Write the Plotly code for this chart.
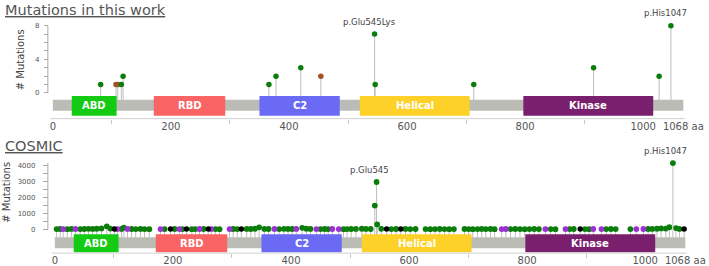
import plotly.graph_objects as go

W, H = 709, 266

# ---------------- data ----------------
protein_length = 1068
domain_names = ["ABD", "RBD", "C2", "Helical", "Kinase"]
domain_start = [32, 171, 350, 520, 797]
domain_end = [108, 292, 486, 706, 1017]
domain_colors = ["#12cb12", "#fa6464", "#6a6af5", "#fdd128", "#7a1f6e"]

x_tickvals = [0, 200, 400, 600, 800, 1000, 1068]
x_ticktext = ["0", "200", "400", "600", "800", "1000", "1068 aa"]

# panel 1: mutations in this work
work_green_pos = [81, 116, 119, 366, 378, 420, 545, 546, 713, 916, 1027, 1047]
work_green_cnt = [1, 1, 2, 1, 2, 3, 7, 1, 1, 3, 2, 8]
work_brown_pos = [107, 110, 454]
work_brown_cnt = [1, 1, 2]
work_labels = [(545, 7, "p.Glu545Lys"), (1047, 8, "p.His1047")]

# panel 2: COSMIC
cosmic_green_pos = [3, 9, 21, 28, 43, 50, 57, 64, 71, 79, 88, 94, 113, 117, 130, 137, 145, 152, 160,
                    186, 203, 216, 232, 238, 252, 272, 279, 302, 309, 325, 332, 339, 346, 355, 362,
                    380, 388, 395, 402, 419, 426, 433, 450, 457, 463, 489, 495, 502, 510, 520, 527,
                    535, 553, 570, 578, 594, 602, 611, 628, 636, 644, 652, 660, 668, 676, 694, 701,
                    708, 716, 723, 730, 738, 745, 772, 780, 788, 796, 804, 812, 820, 840, 848, 872,
                    879, 898, 905, 934, 942, 950, 975, 1005, 1012, 1020, 1027, 1035, 1041, 1052, 1058]
cosmic_green_cnt = [20, 25, 15, 30, 20, 25, 35, 30, 40, 60,
                    190, 50, 30, 110, 25, 20, 30, 20, 15, 20,
                    25, 20, 15, 20, 25, 20, 15, 25, 20, 30,
                    25, 40, 130, 30, 25, 20, 35, 30, 25, 100,
                    40, 30, 20, 25, 20, 15, 20, 25, 30, 40,
                    30, 25, 35, 20, 25, 30, 20, 25, 20, 15,
                    20, 25, 20, 15, 20, 25, 20, 15, 20, 30,
                    20, 25, 15, 20, 25, 20, 15, 20, 25, 20,
                    20, 15, 20, 25, 20, 15, 20, 25, 20, 20,
                    25, 30, 40, 60, 50, 140, 80, 30]
cosmic_purple_pos = [14, 35, 106, 123, 179, 211, 245, 265, 296, 372, 409, 443, 470, 481,
                     757, 764, 831, 865, 912, 926, 985, 997]
cosmic_purple_cnt = [20, 25, 20, 30, 20, 20, 25, 20, 20, 25, 30, 20, 25, 20,
                     20, 25, 20, 20, 25, 20, 20, 25]
cosmic_black_pos = [101, 196, 223, 260, 316, 562, 586, 890, 1066]
cosmic_black_cnt = [20, 20, 20, 20, 20, 20, 20, 20, 20]
cosmic_hot_pos = [542, 545, 546, 1047]
cosmic_hot_cnt = [1480, 2950, 310, 4130]
cosmic_labels = [(545, 2950, "p.Glu545"), (1047, 4130, "p.His1047")]

# ---------------- layout helpers ----------------
FONT = "DejaVu Sans"
GREEN = "#0b7d0b"
BROWN = "#a3521f"
PURPLE = "#9b30d3"
STEM = "#bdbdbd"
BAR = "#bcbcb7"

XR = [-85, 1100]
px_per_aa = 0.592


def xdom(zero_px):
    left = zero_px + XR[0] * px_per_aa
    right = zero_px + XR[1] * px_per_aa
    return [left / W, right / W]


def ydom(top_px, bot_px):
    return [(H - bot_px) / H, (H - top_px) / H]


panels = [
    dict(xa="x", ya="y", xzero=53, top=20, bot=120, zero_px=94, px_per_unit=8.5,
         bar=(101, 112), dom=(97, 117),
         tickvals=[0, 4, 8], minor=[1, 2, 3, 5, 6, 7], ticklen=4, standoff=3),
    dict(xa="x2", ya="y2", xzero=55, top=158, bot=256, zero_px=232, px_per_unit=0.01625,
         bar=(240, 251), dom=(237, 255),
         tickvals=[0, 1000, 2000, 3000, 4000], minor=[500, 1500, 2500, 3500], ticklen=5, standoff=6),
]
for p in panels:
    p["yr"] = [(p["zero_px"] - p["bot"]) / p["px_per_unit"], (p["zero_px"] - p["top"]) / p["px_per_unit"]]


def px_to_val(p, ypx):
    return (p["zero_px"] - ypx) / p["px_per_unit"]


fig = go.Figure()
shapes = []
annotations = []


def add_lollipops(p, pos, cnt, color, size=5.5):
    base = px_to_val(p, p["bar"][0])
    sx, sy = [], []
    for a, c in zip(pos, cnt):
        sx += [a, a, None]
        sy += [base, c, None]
    fig.add_trace(go.Scatter(x=sx, y=sy, mode="lines", line=dict(color=STEM, width=1),
                             xaxis=p["xa"], yaxis=p["ya"], hoverinfo="skip", showlegend=False))
    fig.add_trace(go.Scatter(x=pos, y=cnt, mode="markers",
                             marker=dict(color=color, size=size, line=dict(width=0)),
                             xaxis=p["xa"], yaxis=p["ya"], showlegend=False))


def add_backbone(p):
    xa, ya = p["xa"], p["ya"]
    shapes.append(dict(type="rect", xref=xa, yref=ya, x0=0, x1=protein_length,
                       y0=px_to_val(p, p["bar"][0]), y1=px_to_val(p, p["bar"][1]),
                       fillcolor=BAR, line=dict(width=0), layer="below"))
    for n, s, e, c in zip(domain_names, domain_start, domain_end, domain_colors):
        y0 = px_to_val(p, p["dom"][0])
        y1 = px_to_val(p, p["dom"][1])
        shapes.append(dict(type="rect", xref=xa, yref=ya, x0=s, x1=e, y0=y0, y1=y1,
                           fillcolor=c, line=dict(width=0), layer="above"))
        annotations.append(dict(x=(s + e) / 2, y=(y0 + y1) / 2, xref=xa, yref=ya, text="<b>%s</b>" % n,
                                xanchor="center", yanchor="middle",
                                showarrow=False, font=dict(family=FONT, size=10, color="white")))
    # x axis baseline
    shapes.append(dict(type="line", xref=xa, yref=ya + " domain", x0=-5, x1=protein_length + 2,
                       y0=0, y1=0, line=dict(color="#d0d0d0", width=1)))


# panel 1
p1 = panels[0]
add_backbone(p1)
add_lollipops(p1, work_brown_pos, work_brown_cnt, BROWN)
add_lollipops(p1, work_green_pos, work_green_cnt, GREEN)
for a, c, t in work_labels:
    annotations.append(dict(x=a, y=c, xref="x", yref="y", text=t, showarrow=False, xshift=-5, yshift=12.5,
                            xanchor="center", yanchor="middle",
                            font=dict(family=FONT, size=8.5, color="#444")))

# panel 2
p2 = panels[1]
add_backbone(p2)
add_lollipops(p2, cosmic_green_pos, cosmic_green_cnt, GREEN, 5.8)
add_lollipops(p2, cosmic_purple_pos, cosmic_purple_cnt, PURPLE, 5.8)
add_lollipops(p2, cosmic_black_pos, cosmic_black_cnt, "#000000", 5.5)
add_lollipops(p2, cosmic_hot_pos, cosmic_hot_cnt, GREEN, 5.8)
for a, c, t in cosmic_labels:
    annotations.append(dict(x=a, y=c, xref="x2", yref="y2", text=t, showarrow=False, xshift=-7, yshift=12,
                            xanchor="center", yanchor="middle",
                            font=dict(family=FONT, size=8.5, color="#444")))

# y axis lines (0 .. max)
yaxis_px = 48
for p, mx in [(p1, max(work_green_cnt + work_brown_cnt)), (p2, max(cosmic_hot_cnt))]:
    shapes.append(dict(type="line", xref="paper", yref=p["ya"], x0=yaxis_px / W, x1=yaxis_px / W,
                       y0=0, y1=mx, line=dict(color="#aaaaaa", width=1)))

# titles
annotations.append(dict(x=3 / W, y=1 - 0 / H, xref="paper", yref="paper", xanchor="left", yanchor="top",
                        text="<u>Mutations in this work</u>", showarrow=False,
                        font=dict(family=FONT, size=14.5, color="#555")))
annotations.append(dict(x=3 / W, y=1 - 138 / H, xref="paper", yref="paper", xanchor="left", yanchor="top",
                        text="<u>COSMIC</u>", showarrow=False,
                        font=dict(family=FONT, size=14.5, color="#555")))
annotations.append(dict(x=20 / W, y=1 - 60 / H, xref="paper", yref="paper", text="# Mutations",
                        xanchor="center", yanchor="middle",
                        textangle=-90, showarrow=False, font=dict(family=FONT, size=10, color="#444")))
annotations.append(dict(x=7 / W, y=1 - 194 / H, xref="paper", yref="paper", text="# Mutations",
                        xanchor="center", yanchor="middle",
                        textangle=-90, showarrow=False, font=dict(family=FONT, size=10, color="#444")))

layout = dict(width=W, height=H, autosize=False, margin=dict(l=0, r=0, t=0, b=0),
              paper_bgcolor="white", plot_bgcolor="white", showlegend=False,
              shapes=shapes, annotations=annotations)

for i, p in enumerate(panels):
    xk = "xaxis" if i == 0 else "xaxis2"
    yk = "yaxis" if i == 0 else "yaxis2"
    layout[xk] = dict(domain=xdom(p["xzero"]), range=XR, anchor=p["ya"], showgrid=False, zeroline=False,
                      showline=False, tickmode="array", tickvals=x_tickvals, ticktext=x_ticktext,
                      ticks="", tickfont=dict(family=FONT, size=10, color="#555"),
                      minor=dict(tickmode="array", tickvals=[100, 300, 500, 700, 900], ticks="outside",
                                 ticklen=4, tickcolor="#c8c8c8", tickwidth=1, showgrid=False),
                      fixedrange=True)
    layout[yk] = dict(domain=ydom(p["top"], p["bot"]), range=p["yr"], anchor="free", position=yaxis_px / W,
                      showgrid=False, zeroline=False, showline=False, tickmode="array", tickvals=p["tickvals"],
                      ticks="outside", ticklen=p["ticklen"], tickcolor="#aaaaaa", tickwidth=1,
                      ticklabelstandoff=p["standoff"],
                      tickfont=dict(family=FONT, size=7, color="#555"),
                      minor=dict(tickmode="array", tickvals=p["minor"], ticks="outside",
                                 ticklen=p["ticklen"], tickcolor="#aaaaaa", tickwidth=1, showgrid=False),
                      fixedrange=True)

fig.update_layout(**layout)
fig.write_html("out.html", config={"displayModeBar": False},
               post_script="document.body.style.margin='0px';document.body.style.overflow='hidden';")
